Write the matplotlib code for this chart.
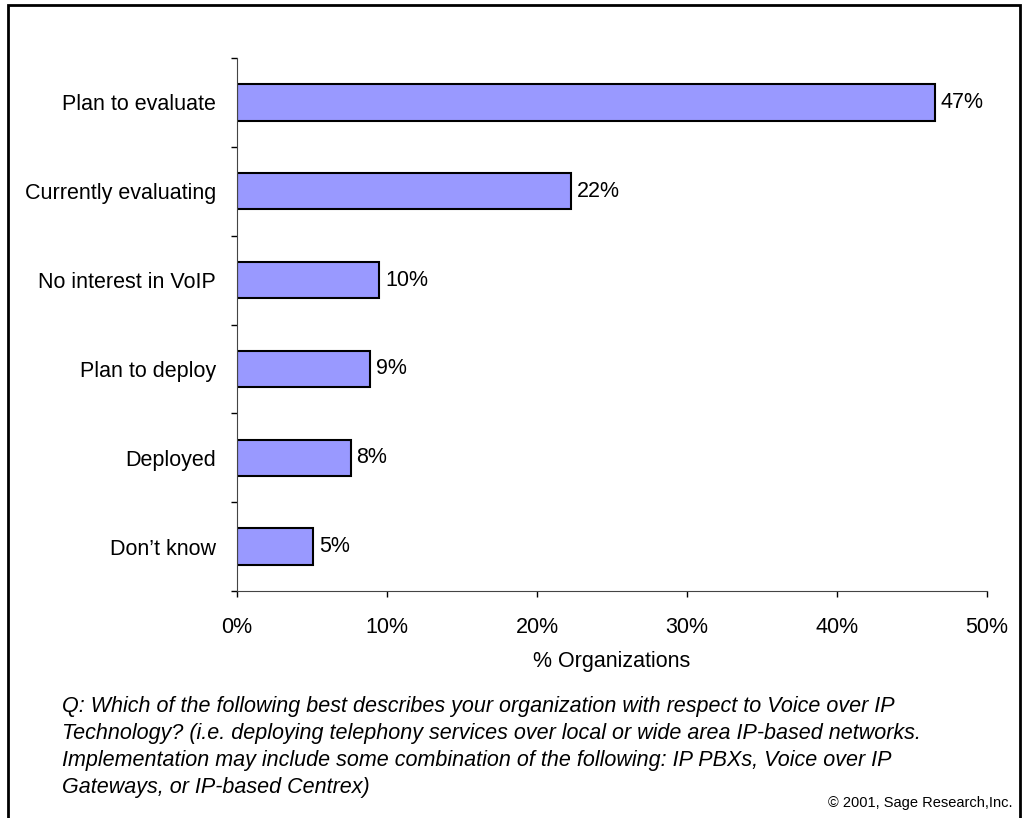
import matplotlib.pyplot as plt
from matplotlib.patches import Rectangle

plt.rcParams['font.family'] = ['Liberation Sans', 'DejaVu Sans']

# survey answers, top to bottom
answers = ['Plan to evaluate', 'Currently evaluating', 'No interest in VoIP',
           'Plan to deploy', 'Deployed', 'Don\u2019t know']
share = [46.5, 22.3, 9.5, 8.9, 7.6, 5.1]
share_labels = ['47%', '22%', '10%', '9%', '8%', '5%']
xticks = [0, 10, 20, 30, 40, 50]

question = ('Q: Which of the following best describes your organization with respect to Voice over IP\n'
            'Technology? (i.e. deploying telephony services over local or wide area IP-based networks.\n'
            'Implementation may include some combination of the following: IP PBXs, Voice over IP\n'
            'Gateways, or IP-based Centrex)')

fs = 15.5

fig = plt.figure(figsize=(10.29, 8.18), dpi=100)
ax = fig.add_axes([0.2303, 0.2775, 0.7289, 0.6516])

pos = list(range(len(answers)))[::-1]
bars = ax.barh(pos, share, height=0.41, color='#9999FF', edgecolor='black', linewidth=1.5)
for p, v, lab in zip(pos, share, share_labels):
    ax.annotate(lab, (v, p), xytext=(4, 0), textcoords='offset points',
                va='center', ha='left', fontsize=fs)

ax.set_xlim(0, 50)
ax.set_ylim(-0.5, len(answers) - 0.5)
ax.set_xticks(xticks)
ax.set_xticklabels([f'{t}%' for t in xticks], fontsize=fs)
ax.set_yticks(pos)
ax.set_yticklabels(answers, fontsize=fs)
ax.set_yticks([i - 0.5 for i in range(len(answers) + 1)], minor=True)
ax.tick_params(axis='y', which='major', length=0, pad=15)
ax.tick_params(axis='y', which='minor', length=4, width=1, direction='out')
ax.tick_params(axis='x', length=4, width=1, direction='out', pad=15)
ax.set_xlabel('% Organizations', fontsize=fs, labelpad=9)
for s in ['top', 'right']:
    ax.spines[s].set_visible(False)
ax.spines['left'].set_color('#444444')
ax.spines['bottom'].set_color('#444444')

fig.text(62 / 1029, 1 - 696 / 818, question, fontsize=fs, style='italic',
         va='top', ha='left', linespacing=1.37)
fig.text(1013 / 1029, 1 - 803 / 818, '\u00a9 2001, Sage Research,Inc.', fontsize=10.5,
         va='center', ha='right')

fig.patches.append(Rectangle((8 / 1029, -0.05), 1012 / 1029, 1.05 - 5 / 818,
                             transform=fig.transFigure, fill=False,
                             edgecolor='black', linewidth=2, clip_on=False))

fig.savefig('out.png', dpi=100)
